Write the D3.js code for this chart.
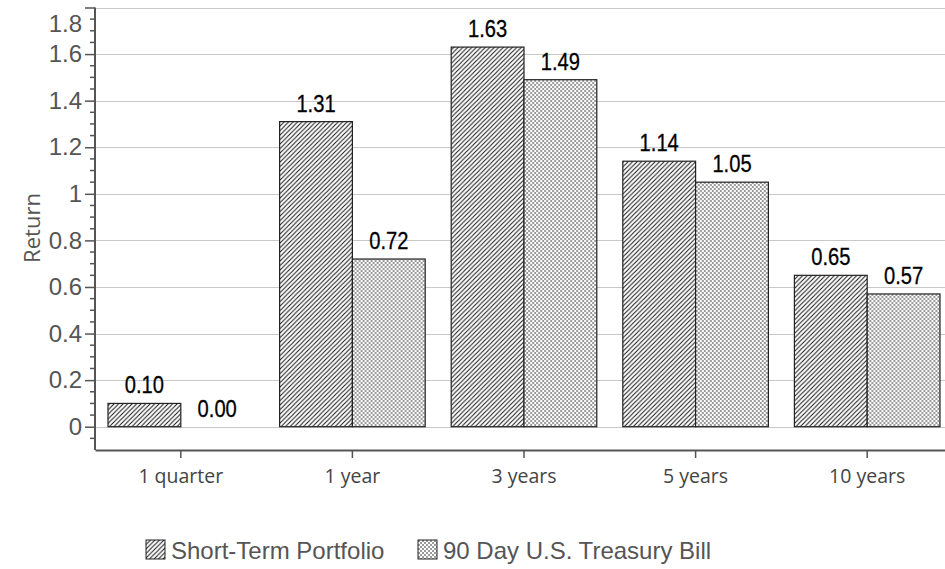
<!DOCTYPE html>
<html><head><meta charset="utf-8">
<script src="https://cdn.jsdelivr.net/npm/d3@7"></script>
<style>
body{margin:0;background:#fff;}
svg{display:block;}
</style></head>
<body><svg id="chart" width="945" height="569"></svg>
<script>
const categories = ["1 quarter", "1 year", "3 years", "5 years", "10 years"];
const seriesNames = ["Short-Term Portfolio", "90 Day U.S. Treasury Bill"];
const shortTerm = [0.10, 1.31, 1.63, 1.14, 0.65];
const treasury = [0.00, 0.72, 1.49, 1.05, 0.57];
const yTicks = [0, 0.2, 0.4, 0.6, 0.8, 1, 1.2, 1.4, 1.6, 1.8];

const svg = d3.select("#chart");
const defs = svg.append("defs");
const hatch = defs.append("pattern").attr("id","hatch").attr("patternUnits","userSpaceOnUse")
  .attr("width",4.5).attr("height",4.5);
hatch.append("rect").attr("width",4.5).attr("height",4.5).attr("fill","#fff");
hatch.append("path").attr("d","M-1,1 l2,-2 M0,4.5 l4.5,-4.5 M3.5,5.5 l2,-2").attr("stroke","#111").attr("stroke-width",1);
const checker = defs.append("pattern").attr("id","checker").attr("patternUnits","userSpaceOnUse")
  .attr("width",4).attr("height",4);
checker.append("rect").attr("width",4).attr("height",4).attr("fill","#fff");
checker.append("rect").attr("x",0).attr("y",0).attr("width",2).attr("height",2).attr("fill","#9a9a9a");
checker.append("rect").attr("x",2).attr("y",2).attr("width",2).attr("height",2).attr("fill","#9a9a9a");
const fills = ["url(#hatch)","url(#checker)"];

const x = d3.scaleBand().domain(categories).range([95, 953]).paddingInner(0).paddingOuter(0);
const x1 = d3.scaleBand().domain([0,1]).range([13, x.bandwidth()-13]);
const y = d3.scaleLinear().domain([-0.1, 1.8]).range([450, 7.5]);

// gridlines
svg.append("g").selectAll("line").data(yTicks).join("line")
  .attr("x1",95).attr("x2",945).attr("y1",d=>Math.round(y(d))+0.5).attr("y2",d=>Math.round(y(d))+0.5)
  .attr("stroke","#c8c8c8").attr("stroke-width",1);

// bars
const data = categories.map((c,i)=>({c, vals:[shortTerm[i], treasury[i]]}));
const groups = svg.append("g").selectAll("g").data(data).join("g")
  .attr("transform",d=>`translate(${x(d.c)},0)`);
groups.selectAll("rect").data(d=>d.vals.map((v,k)=>({v,k}))).join("rect")
  .attr("x",d=>x1(d.k)).attr("width",x1.bandwidth())
  .attr("y",d=>y(d.v)).attr("height",d=>y(0)-y(d.v))
  .attr("fill",d=>fills[d.k]).attr("stroke","#222").attr("stroke-width",1.2);
groups.selectAll("text").data(d=>d.vals.map((v,k)=>({v,k}))).join("text")
  .attr("transform",d=>`translate(${x1(d.k)+x1.bandwidth()/2},${y(d.v)-10}) scale(0.84,1)`)
  .attr("text-anchor","middle")
  .attr("font-family","'Liberation Sans',Arial,sans-serif")
  .attr("font-size",24).attr("fill","#000").attr("stroke","#000").attr("stroke-width",0.3)
  .text(d=>d.v.toFixed(2));

// y axis
const yAxis = d3.axisLeft(y).tickValues(yTicks).tickSize(10).tickFormat(d=>d3.format("~g")(d));
const yg = svg.append("g").attr("transform","translate(95,0)").call(yAxis);
yg.select(".domain").attr("stroke","#555").attr("stroke-width",2).attr("d","M0,7.5V450");
yg.selectAll(".tick line").attr("stroke","#555").attr("stroke-width",1.5);
yg.selectAll(".tick text").attr("font-family","'Liberation Sans',Arial,sans-serif")
  .attr("font-size",24).attr("fill","#555").attr("x",-13);
yg.selectAll(".tick text").filter(d=>d===1.8).attr("dy","1.0em");
const minor = d3.range(-0.05, 1.8, 0.05).filter(v=>Math.abs(Math.round(v*5)-v*5)>1e-6);
yg.append("g").selectAll("line").data(minor).join("line")
  .attr("x1",-5).attr("x2",0).attr("y1",d=>y(d)).attr("y2",d=>y(d))
  .attr("stroke","#555").attr("stroke-width",1.5);

// x axis
const xAxis = d3.axisBottom(x).tickSize(8).tickSizeOuter(0);
const xg = svg.append("g").attr("transform","translate(0,450)").call(xAxis);
xg.select(".domain").attr("stroke","#555").attr("stroke-width",2);
xg.selectAll(".tick line").attr("stroke","#555").attr("stroke-width",1.5);
xg.selectAll(".tick text").attr("font-family","'Open Sans',sans-serif").attr("font-size",19.5)
  .attr("fill","#444").attr("dy","1.1em").attr("y",12);

// y title
svg.append("text").attr("transform","translate(40,228) rotate(-90)")
  .attr("text-anchor","middle").attr("font-family","'Open Sans',sans-serif")
  .attr("font-size",22).attr("fill","#555").text("Return");

// legend
const legX = [146, 418];
const leg = svg.append("g").selectAll("g").data(seriesNames).join("g")
  .attr("transform",(d,i)=>`translate(${legX[i]},540)`);
leg.append("rect").attr("width",19).attr("height",19).attr("fill",(d,i)=>fills[i])
  .attr("stroke","#222").attr("stroke-width",1);
leg.append("text").attr("x",25).attr("y",19).attr("font-family","'Liberation Sans',Arial,sans-serif")
  .attr("font-size",24).attr("fill","#555").text(d=>d);
</script></body></html>
